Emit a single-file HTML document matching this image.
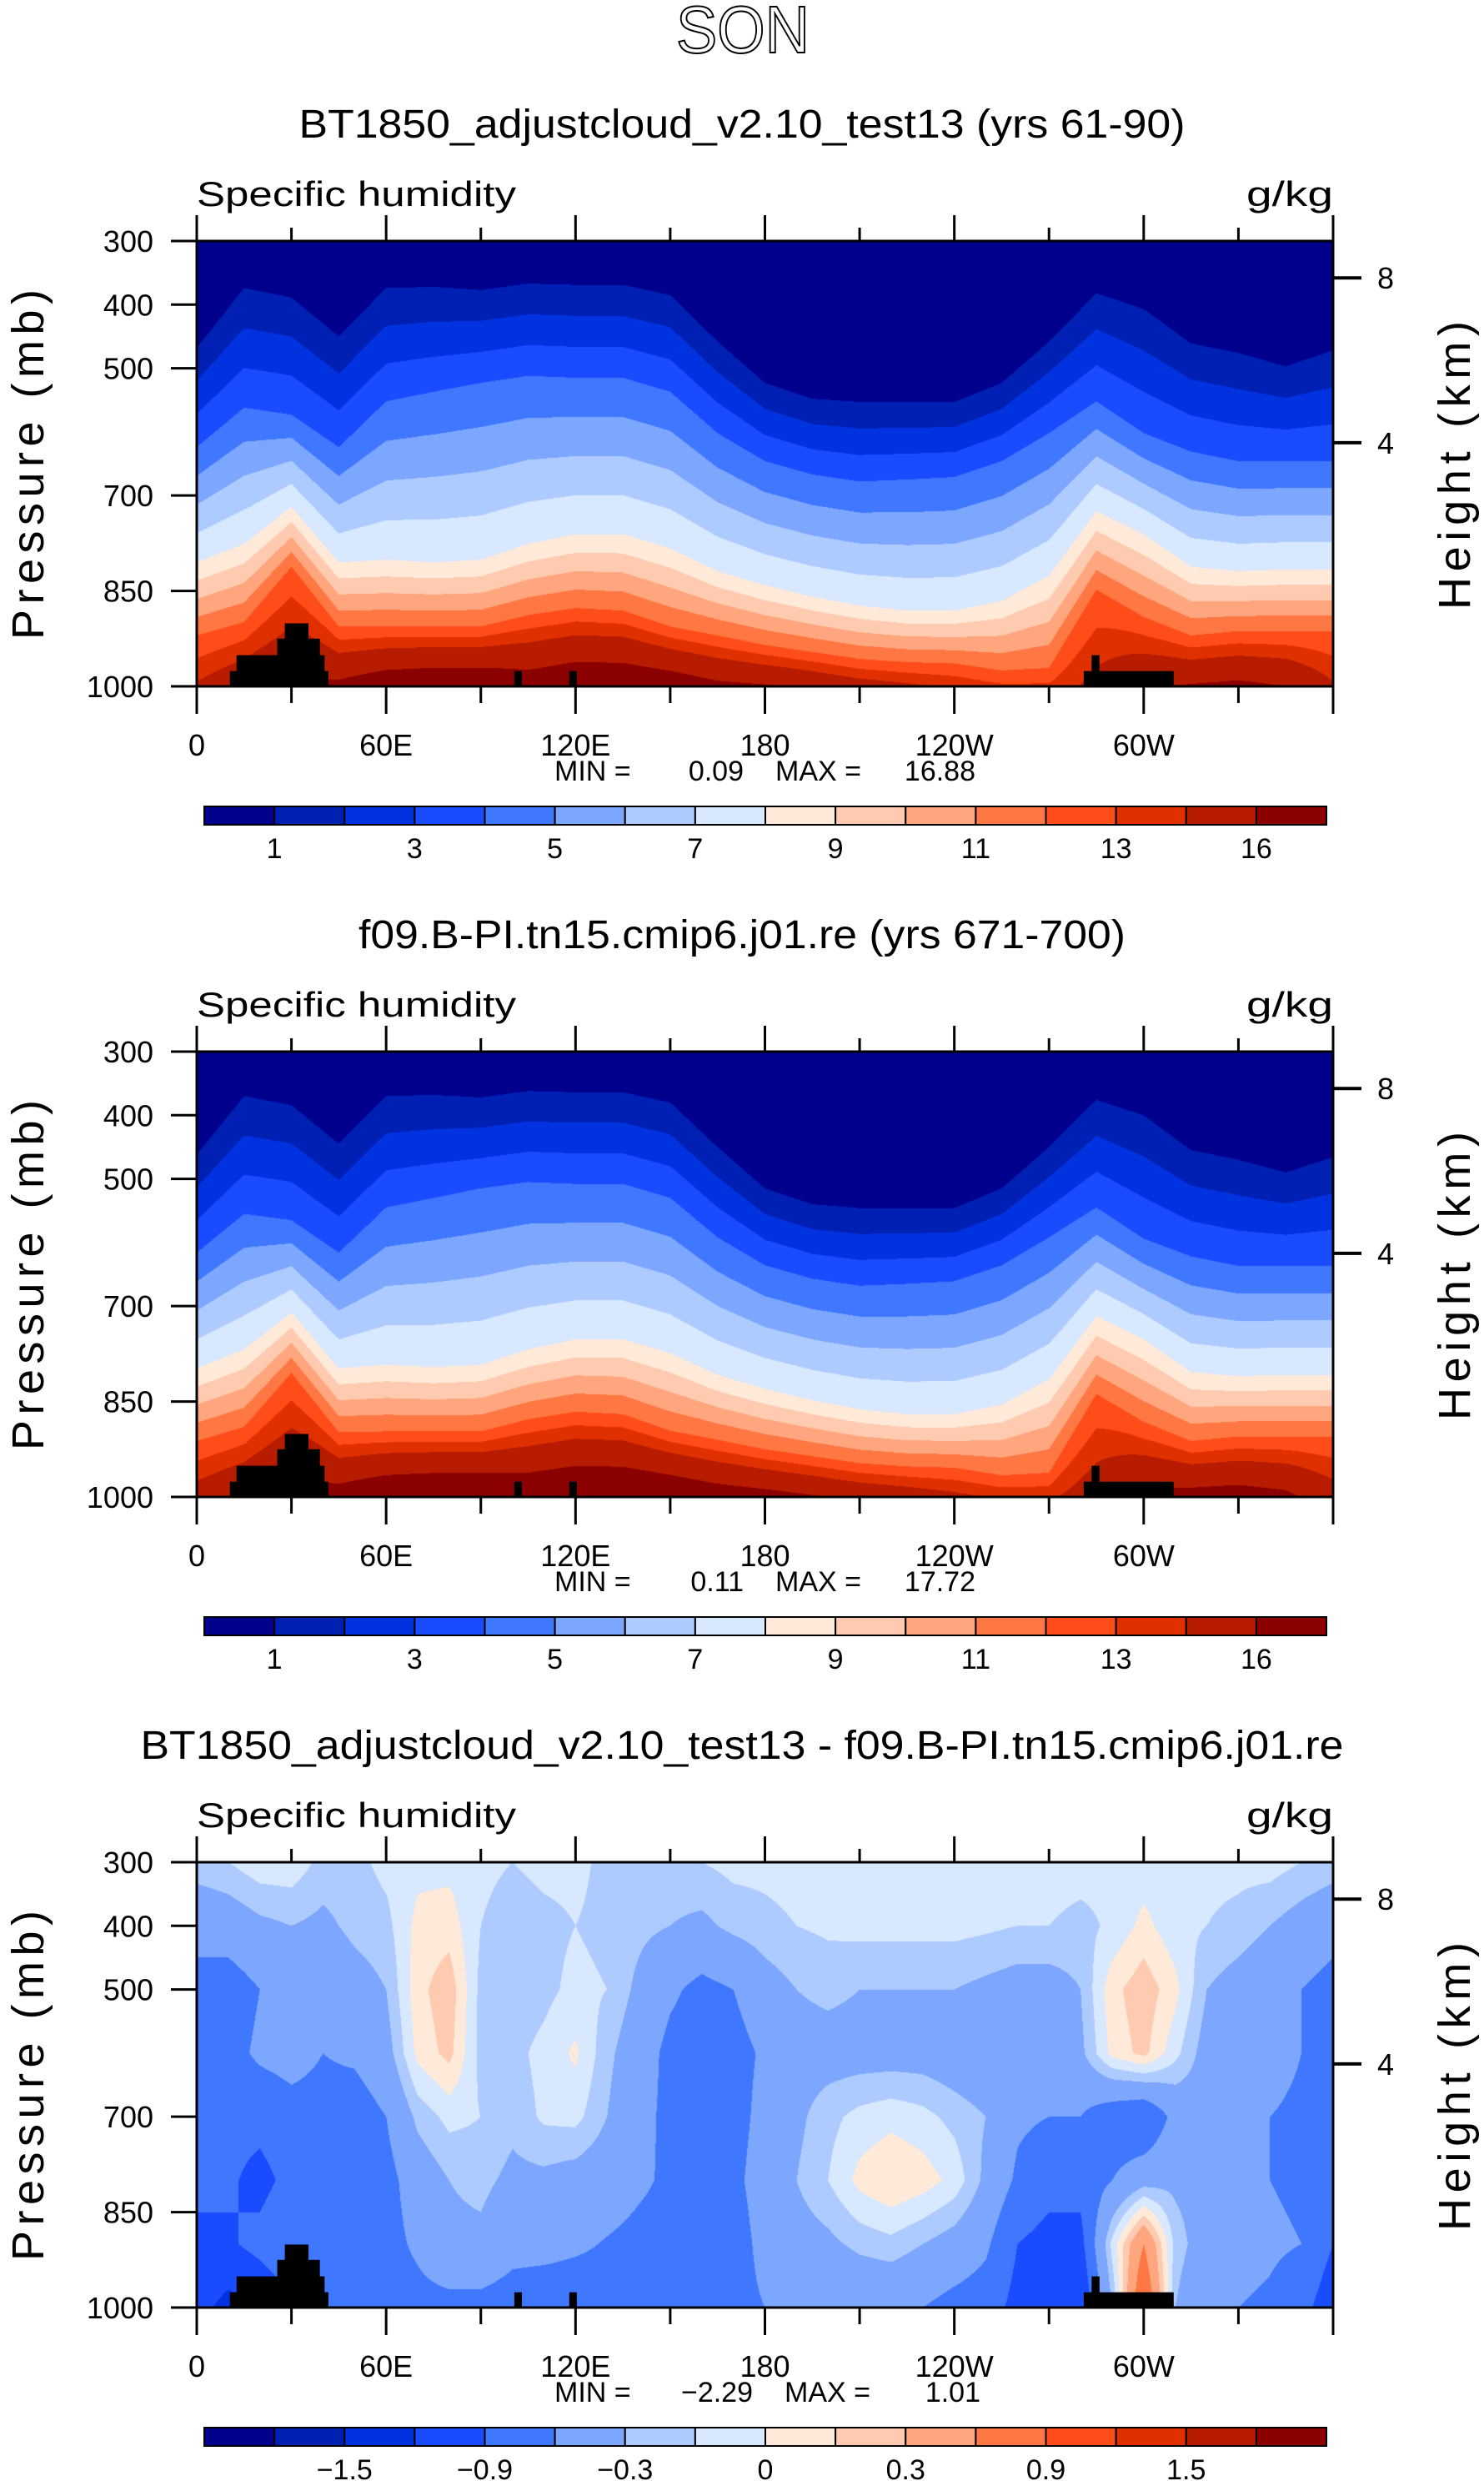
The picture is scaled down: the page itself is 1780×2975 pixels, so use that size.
<!DOCTYPE html>
<html><head><meta charset="utf-8">
<style>
html,body{margin:0;padding:0;background:#fff;}
#wrap{position:relative;width:1780px;height:2975px;overflow:hidden;background:#fff;}
canvas{position:absolute;}
svg{position:absolute;left:0;top:0;}
text{font-family:"Liberation Sans Narrow","Liberation Sans",sans-serif;fill:#000;}
</style></head>
<body>
<div id="wrap">
<canvas id="c0" width="1363" height="534" style="left:236px;top:289px"></canvas>
<canvas id="c1" width="1363" height="534" style="left:236px;top:1261px"></canvas>
<canvas id="c2" width="1363" height="534" style="left:236px;top:2233px"></canvas>
<svg id="ov" width="1780" height="2975"></svg>
</div>
<script>
// ---------- data ----------
const lonNodes = [0,15,30,45,60,75,90,105,120,135,150,165,180,195,210,225,240,255,270,285,300,315,330,345,360];
// panel 1 : pressure (mb) of contours 1,4,8,12 g/kg, and surface value
const p1c1  = [468,374,389,450,374,372,377,367,369,369,385,458,523,548,553,553,553,523,458,382,407,461,476,497,472];
const p1c4  = [624,562,573,624,552,537,523,512,515,515,537,602,646,667,678,675,671,646,602,552,602,631,646,646,646];
const p1c8  = [805,776,718,805,801,805,801,776,761,761,783,819,841,859,873,881,881,866,826,725,761,812,819,816,816];
const p1c12 = [920,899,812,906,906,906,906,888,877,881,906,920,935,946,957,962,964,975,971,848,891,920,913,913,913];
const p1sfc = [14.2,15.5,16,16.5,17.5,17.8,17.8,17.2,17.8,17.8,17.4,16.5,16.2,15.6,14.8,14.3,13.8,13.2,13.2,14.5,15.8,16.2,16.5,16,14.2];
// panel 2 (slightly moister)
const p2c1  = [462,370,384,445,370,368,372,362,364,364,380,450,515,540,546,546,546,515,450,376,400,455,470,490,466];
const p2c4  = [616,555,565,616,545,530,515,505,508,508,530,592,636,657,668,665,661,636,592,545,594,622,637,637,637];
const p2c8  = [798,768,710,798,792,796,792,768,752,752,774,808,830,848,862,870,870,855,815,716,752,804,810,808,808];
const p2c12 = [912,890,805,898,897,897,897,878,866,870,896,910,925,936,947,952,954,966,962,838,882,912,905,905,905];
const p2sfc = [14.8,16,16.5,17,18,18.3,18.3,17.8,18.3,18.3,18,17.2,16.8,16.2,15.5,15,14.4,13.8,13.8,15,16.5,16.8,17,16.5,14.8];
// panel 3 difference grid: lon every 10 deg, rows = pressure levels
const dLon = [0,10,20,30,40,50,60,70,80,90,100,110,120,130,140,150,160,170,180,190,200,210,220,230,240,250,260,270,280,290,300,310,320,330,340,350,360];
const dLev = [300,400,500,600,700,800,900,1000];
const d300 = [-0.2,-0.15,-0.05,-0.05,-0.2,-0.2,-0.1,-0.05,-0.05,-0.1,-0.15,-0.1,-0.1,-0.2,-0.15,-0.2,-0.15,-0.1,-0.1,-0.08,-0.08,-0.08,-0.08,-0.08,-0.08,-0.07,-0.07,-0.07,-0.08,-0.1,-0.1,-0.1,-0.1,-0.1,-0.08,-0.15,-0.2];
const d400 = [-0.5,-0.45,-0.35,-0.3,-0.35,-0.25,-0.2,0.05,0.08,-0.15,-0.25,-0.2,-0.15,-0.2,-0.25,-0.3,-0.35,-0.25,-0.2,-0.15,-0.12,-0.1,-0.1,-0.1,-0.1,-0.12,-0.15,-0.15,-0.2,-0.12,0.05,-0.1,-0.15,-0.2,-0.3,-0.4,-0.5];
const d500 = [-0.7,-0.75,-0.6,-0.5,-0.5,-0.4,-0.3,0.1,0.25,-0.2,-0.25,-0.2,-0.1,-0.15,-0.35,-0.55,-0.68,-0.6,-0.4,-0.3,-0.25,-0.3,-0.3,-0.3,-0.3,-0.35,-0.4,-0.4,-0.3,0.1,0.25,0.05,-0.3,-0.4,-0.5,-0.6,-0.7];
const d600 = [-0.8,-0.7,-0.55,-0.5,-0.6,-0.55,-0.4,0.05,0.2,-0.2,-0.2,-0.1,0.03,-0.25,-0.45,-0.68,-0.75,-0.72,-0.55,-0.4,-0.4,-0.4,-0.4,-0.4,-0.45,-0.5,-0.55,-0.5,-0.35,0.05,0.2,-0.1,-0.4,-0.5,-0.5,-0.6,-0.8];
const d700 = [-0.8,-0.8,-0.8,-0.7,-0.7,-0.75,-0.6,-0.25,-0.1,-0.15,-0.25,-0.12,-0.1,-0.3,-0.5,-0.68,-0.78,-0.72,-0.5,-0.35,-0.2,-0.1,-0.05,-0.1,-0.2,-0.3,-0.55,-0.6,-0.6,-0.8,-0.9,-0.5,-0.4,-0.5,-0.6,-0.65,-0.8];
const d800 = [-0.9,-0.85,-1.0,-0.8,-0.6,-0.8,-0.7,-0.45,-0.3,-0.25,-0.35,-0.35,-0.4,-0.45,-0.55,-0.65,-0.75,-0.68,-0.45,-0.3,-0.15,0.05,0.15,0.08,-0.05,-0.35,-0.65,-0.8,-0.8,-0.6,-0.4,-0.35,-0.4,-0.5,-0.6,-0.65,-0.9];
const d900 = [-0.9,-0.95,-0.8,-0.6,-0.8,-0.75,-0.7,-0.55,-0.35,-0.35,-0.5,-0.5,-0.55,-0.62,-0.68,-0.72,-0.78,-0.75,-0.5,-0.4,-0.35,-0.25,-0.2,-0.3,-0.4,-0.55,-0.9,-1.0,-1.0,-0.1,0.6,-0.2,-0.45,-0.5,-0.55,-0.6,-0.9];
const d1000= [-1.1,-1.3,-1.2,-1.0,-0.9,-0.9,-0.75,-0.7,-0.7,-0.7,-0.75,-0.8,-0.8,-0.75,-0.8,-0.8,-0.75,-0.7,-0.6,-0.6,-0.6,-0.55,-0.55,-0.6,-0.7,-0.75,-1.0,-1.2,-1.2,-0.3,1.0,-0.3,-0.6,-0.6,-0.65,-0.8,-1.1];
// contour levels & colors
const qLevels = [1,2,3,4,5,6,7,8,9,10,11,12,13,14,16];
const dLevels = [-1.8,-1.5,-1.2,-0.9,-0.6,-0.3,-0.15,0,0.15,0.3,0.6,0.9,1.2,1.5,1.8];
const colors = ["#00008c","#0020b4","#0032e0","#1a4cff","#3f78ff","#7da6ff","#aecbff","#d7e8ff","#ffe9d9","#ffcbb0","#ffa67e","#ff7743","#ff4d1a","#e03000","#b81c00","#8b0000"];
const qBarLabels = ["1","3","5","7","9","11","13","16"];
const dBarLabels = ["\u22121.5","\u22120.9","\u22120.3","0","0.3","0.9","1.5"];
// topography blocks: [lonStart, lonEnd, topPressure]
const topoLon0 = [10.5,12.6,25.5,27.9,281,283.5,100.6,118];
const topoLon1 = [41.7,40.5,39,35.4,309.5,286,103,120.4];
const topoTop  = [976,951,925,901,976,951,976,976];
// axes
const lonTicks = [0,30,60,90,120,150,180,210,240,270,300,330,360];
const lonLabels = {0:"0",60:"60E",120:"120E",180:"180",240:"120W",300:"60W"};
const presTicks = [300,400,500,700,850,1000];
const heightKm = [8,4];
const heightP = [358,617];
const titles = ["BT1850_adjustcloud_v2.10_test13 (yrs 61-90)","f09.B-PI.tn15.cmip6.j01.re (yrs 671-700)","BT1850_adjustcloud_v2.10_test13 - f09.B-PI.tn15.cmip6.j01.re"];
const titleLen = [1063,920,1443];
const minVals = ["0.09","0.11","\u22122.29"];
const maxVals = ["16.88","17.72","1.01"];

// ---------- geometry ----------
const PL=236, PW=1363, PH=534, TOP0=289, DY=972;
function xS(lon){return PL+lon/360*PW;}
function yS(p,top){return top+(p-300)/700*PH;}
function rgb(h){return [parseInt(h.substr(1,2),16),parseInt(h.substr(3,2),16),parseInt(h.substr(5,2),16)];}
const cols=colors.map(rgb);
function band(v,lev){let i=0;while(i<lev.length&&v>=lev[i])i++;return i;}
function interpArr(nodes,arr,x){
  for(let i=0;i<nodes.length-1;i++){ if(x<=nodes[i+1]){const t=(x-nodes[i])/(nodes[i+1]-nodes[i]);return arr[i]+(arr[i+1]-arr[i])*t;} }
  return arr[arr.length-1];
}
function profileVal(c1,c4,c8,c12,sfc,p){
  const P=[300,c1,c4,c8,c12,1000],V=[0.3,1,4,8,12,sfc];
  for(let i=0;i<P.length-1;i++){ if(p<=P[i+1]){const t=(p-P[i])/(P[i+1]-P[i]);return V[i]+(V[i+1]-V[i])*t;} }
  return sfc;
}
function drawQ(id,a1,a4,a8,a12,as){
  const cv=document.getElementById(id),ctx=cv.getContext('2d'),img=ctx.createImageData(PW,PH);
  for(let x=0;x<PW;x++){
    const lon=(x+0.5)/PW*360;
    const c1=interpArr(lonNodes,a1,lon),c4=interpArr(lonNodes,a4,lon),c8=interpArr(lonNodes,a8,lon),c12=interpArr(lonNodes,a12,lon),s=interpArr(lonNodes,as,lon);
    for(let y=0;y<PH;y++){
      const p=300+(y+0.5)/PH*700;
      const c=cols[band(profileVal(c1,c4,c8,c12,s,p),qLevels)];
      const k=(y*PW+x)*4;img.data[k]=c[0];img.data[k+1]=c[1];img.data[k+2]=c[2];img.data[k+3]=255;
    }
  }
  ctx.putImageData(img,0,0);
}
function drawD(id){
  const rows=[d300,d400,d500,d600,d700,d800,d900,d1000];
  const cv=document.getElementById(id),ctx=cv.getContext('2d'),img=ctx.createImageData(PW,PH);
  for(let x=0;x<PW;x++){
    const lon=(x+0.5)/PW*360;
    const col=rows.map(r=>interpArr(dLon,r,lon));
    for(let y=0;y<PH;y++){
      const p=300+(y+0.5)/PH*700;
      const v=interpArr(dLev,col,p);
      const c=cols[band(v,dLevels)];
      const k=(y*PW+x)*4;img.data[k]=c[0];img.data[k+1]=c[1];img.data[k+2]=c[2];img.data[k+3]=255;
    }
  }
  ctx.putImageData(img,0,0);
}
drawQ('c0',p1c1,p1c4,p1c8,p1c12,p1sfc);
drawQ('c1',p2c1,p2c4,p2c8,p2c12,p2sfc);
drawD('c2');

// ---------- svg overlay ----------
const NS="http://www.w3.org/2000/svg",svg=document.getElementById('ov');
function el(tag,attrs,parent){const e=document.createElementNS(NS,tag);for(const k in attrs)e.setAttribute(k,attrs[k]);(parent||svg).appendChild(e);return e;}
function txt(s,attrs,parent){const e=el('text',attrs,parent);e.textContent=s;return e;}

const son=txt("SON",{x:891,y:63,'font-size':80,'text-anchor':'middle',textLength:160,lengthAdjust:'spacingAndGlyphs'});


son.setAttribute('style','fill:none;stroke:#000;stroke-width:2');

for(let pi=0;pi<3;pi++){
  const top=TOP0+pi*DY, bot=top+PH;
  const g=el('g',{});
  
  
  const t=txt(titles[pi],{x:890,y:165+pi*DY,'font-size':48,'text-anchor':'middle',textLength:titleLen[pi],lengthAdjust:'spacingAndGlyphs'},g);
  
  
  const sh=txt("Specific humidity",{x:236,y:247+pi*DY,'font-size':42,textLength:383,lengthAdjust:'spacingAndGlyphs'},g);
  
  
  const un=txt("g/kg",{x:1495,y:247+pi*DY,'font-size':42,textLength:104,lengthAdjust:'spacingAndGlyphs'},g);
  
  
  for(let i=0;i<topoLon0.length;i++){
    const r=el('rect',{x:xS(topoLon0[i]),y:yS(topoTop[i],top),width:xS(topoLon1[i])-xS(topoLon0[i]),height:bot-yS(topoTop[i],top),fill:'#000'},g);
    
    
  }
  const fr=el('rect',{x:PL,y:top,width:PW,height:PH,fill:'none',stroke:'#000','stroke-width':3},g);
  
  
  lonTicks.forEach(l=>{
    const major=(l%60===0);
    const x=xS(l);
    const tb=el('line',{x1:x,x2:x,y1:bot,y2:bot+(major?33:20),stroke:'#000','stroke-width':3},g);
    
    
    const tt=el('line',{x1:x,x2:x,y1:top,y2:top-(major?31:16),stroke:'#000','stroke-width':3},g);
    
    
    if(lonLabels[l]!==undefined){
      const lb=txt(lonLabels[l],{x:x,y:bot+83,'font-size':36,'text-anchor':'middle'},g);
      
      
    }
  });
  presTicks.forEach(p=>{
    const y=yS(p,top);
    const tk=el('line',{x1:205,x2:PL,y1:y,y2:y,stroke:'#000','stroke-width':3},g);
    
    
    const lb=txt(String(p),{x:184,y:y+13,'font-size':36,'text-anchor':'end'},g);
    
    
  });
  heightKm.forEach((h,i)=>{
    const y=yS(heightP[i],top);
    const tk=el('line',{x1:PL+PW,x2:1633,y1:y,y2:y,stroke:'#000','stroke-width':4},g);
    
    
    const lb=txt(String(h),{x:1652,y:y+13,'font-size':36},g);
    
    
  });
  const pt=txt("Pressure (mb)",{x:0,y:0,'font-size':54,'text-anchor':'middle',textLength:420,lengthAdjust:'spacing',transform:`translate(52,${top+268}) rotate(-90)`},g);
  
  
  const ht=txt("Height (km)",{x:0,y:0,'font-size':54,'text-anchor':'middle',textLength:346,lengthAdjust:'spacing',transform:`translate(1763,${top+269}) rotate(-90)`},g);
  
  
  const m1=txt("MIN =",{x:665,y:bot+113,'font-size':34},g);
  
  
  const m2=txt(minVals[pi],{x:pi===2?903:892,y:bot+113,'font-size':34,'text-anchor':'end'},g);
  
  
  const m3=txt("MAX =",{x:pi===2?941:930,y:bot+113,'font-size':34},g);
  
  
  const m4=txt(maxVals[pi],{x:pi===2?1176:1170,y:bot+113,'font-size':34,'text-anchor':'end'},g);
  
  
  const cb=el('g',{},g);
  
  
  const bx0=245,bx1=1591,by=967+pi*DY,bh=22,bw=(bx1-bx0)/colors.length;
  colors.forEach((c,i)=>{
    const r=el('rect',{x:bx0+i*bw,y:by,width:bw,height:bh,fill:c,stroke:'#000','stroke-width':2},cb);
    
    
  });
  const labs=pi===2?dBarLabels:qBarLabels;
  const first=pi===2?2:1;
  labs.forEach((s,i)=>{
    const lb=txt(s,{x:bx0+(first+2*i)*bw,y:by+62,'font-size':34,'text-anchor':'middle'},cb);
    
    
  });
}
</script>
</body></html>
